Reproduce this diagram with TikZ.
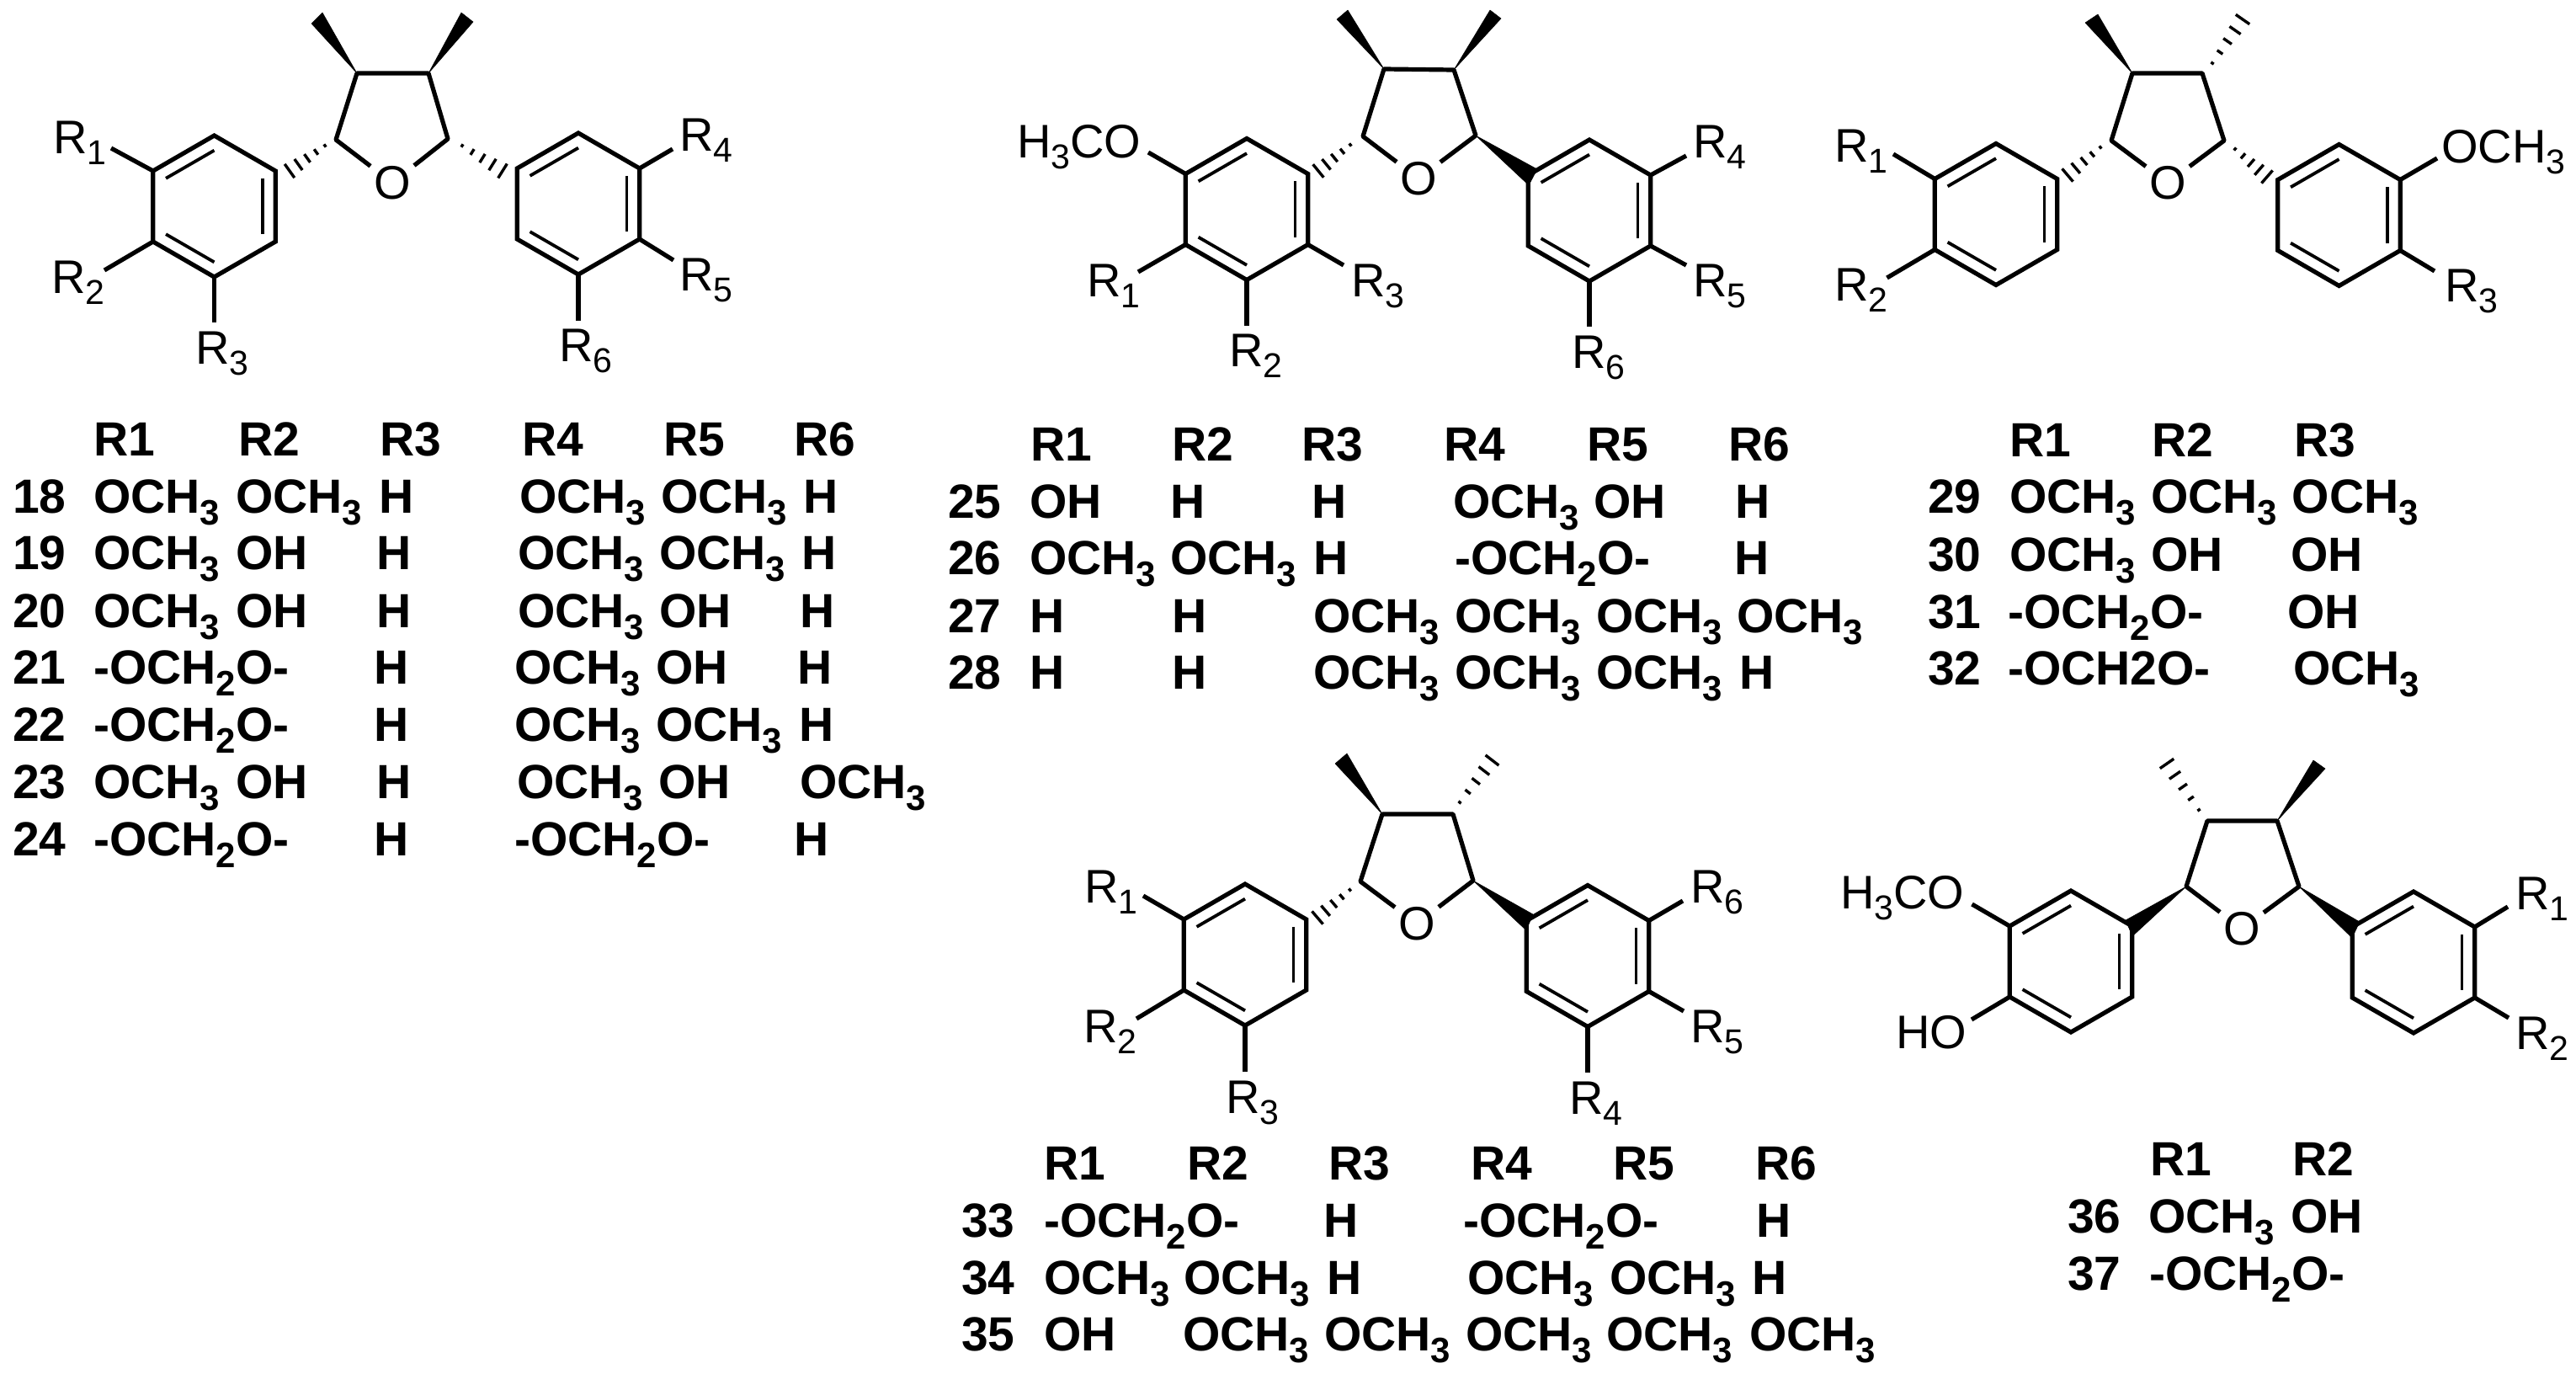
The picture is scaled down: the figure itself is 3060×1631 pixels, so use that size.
\documentclass[tikz,border=0pt]{standalone}
\usepackage{fontspec}
\setmainfont{Liberation Sans}
\usetikzlibrary{calc}
\newcommand\rsub[1]{\raisebox{-13pt}{\fontsize{41}{41}\selectfont #1}}
\newcommand\tsub[1]{\raisebox{-14pt}{\fontsize{42}{42}\selectfont #1}}
\newcommand\och{OCH\tsub{3}}
\newcommand\meth{-OCH\tsub{2}O-}
\tikzset{
  bond/.style={line width=5.2pt,line cap=butt,line join=miter,black},
  innerbond/.style={line width=3.8pt,black},
  hashbar/.style={line width=3.4pt,black},
  wedgefill/.style={fill=black,draw=black,line width=.5pt,line join=round},
  lab/.style={anchor=base west,inner sep=0pt,xshift=-4pt,font=\fontsize{56}{60}\selectfont},
  atom/.style={inner sep=4pt,font=\fontsize{56}{60}\selectfont},
  tb/.style={anchor=base west,inner sep=0pt,xshift=-3pt,font=\bfseries\fontsize{57}{60}\selectfont},
}
% hexagon with three inner double-bond lines
\newcommand\Ring[3]{%
  \begin{scope}[shift={(#2,#3)}]
    \coordinate (#1-t) at (0,-84);
    \coordinate (#1-ur) at (72.7,-42);
    \coordinate (#1-lr) at (72.7,42);
    \coordinate (#1-b) at (0,84);
    \coordinate (#1-ll) at (-72.7,42);
    \coordinate (#1-ul) at (-72.7,-42);
    \coordinate (#1-c) at (0,0);
  \end{scope}
  \draw[bond] (#1-t) -- (#1-ur) -- (#1-lr) -- (#1-b) -- (#1-ll) -- (#1-ul) -- cycle;
  \draw[innerbond] ($(#1-c)!.79!(#1-ul)$) -- ($(#1-c)!.79!(#1-t)$);
  \draw[innerbond] ($(#1-c)!.79!(#1-ur)$) -- ($(#1-c)!.79!(#1-lr)$);
  \draw[innerbond] ($(#1-c)!.79!(#1-ll)$) -- ($(#1-c)!.79!(#1-b)$);
}
% tetrahydrofuran core
\newcommand\Core[6]{%
  \coordinate (#1-c3) at (#2);
  \coordinate (#1-c4) at (#3);
  \coordinate (#1-c2) at (#4);
  \coordinate (#1-c5) at (#5);
  \node[atom] (#1-o) at (#6) {O};
  \draw[bond,line join=round] (#1-o) -- (#1-c2) -- (#1-c3) -- (#1-c4) -- (#1-c5) -- (#1-o);
}
\newcommand\Wedge[4]{%
  \coordinate (#2-1) at (#3);
  \coordinate (#2-2) at (#4);
  \fill[wedgefill] (#1) -- (#2-1) -- (#2-2) -- cycle;
}
\newcommand\Hash[3]{%
  \coordinate (#1-s) at (#2);
  \coordinate (#1-e) at (#3);
  \foreach \tp/\wd in {0/2,.25/4,.5/6,.75/8,1/10}{
    \draw[hashbar] ($(#1-s)!\tp!(#1-e) + (#1-s)!\wd pt!90:(#1-e) - (#1-s)$)
      -- ($(#1-s)!\tp!(#1-e) + (#1-s)!\wd pt!-90:(#1-e) - (#1-s)$);
  }
}
% substituent bond from ring vertex to a free end, plus its label
\newcommand\Sub[6]{%
  \coordinate (#2) at (#3);
  \draw[bond] (#1) -- (#2);
  \node[lab] (#2-t) at (#4,#5) {#6};
}
\begin{document}
\begin{tikzpicture}[x=1pt,y=-1pt]
\useasboundingbox (0,0) rectangle (3060,1631);
\fill[white] (0,0) rectangle (3060,1631);

%%% Structure A
\Core{a}{424,87}{509,87}{399,166}{532,165}{466,217}
\Wedge{a-c3}{aw3}{383,15}{370,28}
\Wedge{a-c4}{aw4}{548,15}{562,26}
\Ring{aL}{254.5}{245}
\Ring{aR}{687}{242}
\Hash{ah2}{386,173}{344,203}
\Hash{ah5}{549,173}{597,203}
\Sub{aL-ul}{a1}{132,176}{67}{182}{R\rsub{1}}
\Sub{aL-ll}{a2}{124,321}{65}{348}{R\rsub{2}}
\Sub{aL-b}{a3}{254.5,383}{236}{432}{R\rsub{3}}
\Sub{aR-ur}{a4}{799,177}{811}{179}{R\rsub{4}}
\Sub{aR-lr}{a5}{800,309}{811}{345}{R\rsub{5}}
\Sub{aR-b}{a6}{687,381}{668}{429}{R\rsub{6}}

%%% Structure B
\Core{b}{1644,82}{1727,83}{1619,162}{1753,161}{1685,212}
\Wedge{b-c3}{bw3}{1601,12}{1588,23}
\Wedge{b-c4}{bw4}{1770,12}{1783,22}
\Ring{bL}{1481}{248.5}
\Ring{bR}{1888}{250}
\Hash{bh2}{1604,172}{1566,203}
\Wedge{b-c5}{bw5}{1826,201}{1816,220}
\Sub{bL-ul}{b0}{1364,181}{1212}{187}{H\rsub{3}CO}
\Sub{bL-ll}{b1}{1352,323}{1295}{352}{R\rsub{1}}
\Sub{bL-b}{b2}{1481,387}{1464}{435}{R\rsub{2}}
\Sub{bL-lr}{b3}{1596,315}{1609}{352}{R\rsub{3}}
\Sub{bR-ur}{b4}{2003,185}{2015}{187}{R\rsub{4}}
\Sub{bR-lr}{b5}{2003,315}{2015}{352}{R\rsub{5}}
\Sub{bR-b}{b6}{1888,388}{1871}{437}{R\rsub{6}}

%%% Structure C
\Core{c}{2533,87}{2616,87}{2508,167}{2642,167}{2575,217}
\Wedge{c-c3}{cw3}{2492,17}{2477,27}
\Hash{ch4}{2628,75}{2664,23}
\Ring{cL}{2371}{254.5}
\Ring{cR}{2778.5}{255.5}
\Hash{ch2}{2495,175}{2456,208}
\Hash{ch5}{2655,177}{2693,210}
\Sub{cL-ul}{c1}{2249,183}{2183}{192}{R\rsub{1}}
\Sub{cL-ll}{c2}{2241.5,330}{2183}{357}{R\rsub{2}}
\Sub{cR-ur}{c0}{2895,188}{2904}{193}{OCH\rsub{3}}
\Sub{cR-lr}{c3}{2892,322}{2908}{358}{R\rsub{3}}

%%% Structure D
\Core{d}{1642,967}{1726,967}{1616,1047}{1750,1046}{1683,1097}
\Wedge{d-c3}{dw3}{1600,895}{1586,907}
\Hash{dh4}{1734,953}{1772.5,903}
\Ring{dL}{1479}{1134}
\Ring{dR}{1886}{1135.5}
\Hash{dh2}{1603.5,1057}{1565,1090}
\Wedge{d-c5}{dw5}{1821,1086}{1813,1105}
\Sub{dL-ul}{d1}{1358,1064}{1292}{1072}{R\rsub{1}}
\Sub{dL-ll}{d2}{1350,1210}{1291}{1238}{R\rsub{2}}
\Sub{dL-b}{d3}{1479,1273}{1460}{1322}{R\rsub{3}}
\Sub{dR-b}{d4}{1886,1274}{1868}{1323}{R\rsub{4}}
\Sub{dR-lr}{d5}{2000,1201}{2012}{1238}{R\rsub{5}}
\Sub{dR-ur}{d6}{1999,1070}{2012}{1072}{R\rsub{6}}

%%% Structure E
\Core{e}{2622,975}{2705,975}{2597,1053}{2731,1053}{2663,1103}
\Hash{eh3}{2612,962}{2574,907}
\Wedge{e-c4}{ew4}{2748,903}{2762,913}
\Ring{eL}{2460}{1142}
\Ring{eR}{2867}{1143}
\Wedge{e-c2}{ew2}{2525,1093}{2533,1112}
\Wedge{e-c5}{ew5}{2803,1095}{2794,1114}
\Sub{eL-ul}{e0}{2342.5,1074}{2190}{1079}{H\rsub{3}CO}
\Sub{eL-ll}{e9}{2342,1211}{2256}{1245}{HO}
\Sub{eR-ur}{e1}{2979,1077}{2992}{1080}{R\rsub{1}}
\Sub{eR-lr}{e2}{2980,1209}{2992}{1246}{R\rsub{2}}

%%% Table A
\foreach \n/\x/\y/\lab in {
 ah1/114/541/R1, ah2/286/541/R2, ah3/454/541/R3, ah4/623/541/R4, ah5/791/541/R5, ah6/946/541/R6,
 a18n/18/609/18, a18a/114/609/\och, a18b/283/609/\och, a18c/453/609/H, a18d/620/609/\och, a18e/788/609/\och, a18f/957/609/H,
 a19n/18/676/19, a19a/114/676/\och, a19b/283/676/OH, a19c/450/676/H, a19d/618/676/\och, a19e/786/676/\och, a19f/955/676/H,
 a20n/18/745/20, a20a/114/745/\och, a20b/283/745/OH, a20c/450/745/H, a20d/618/745/\och, a20e/786/745/OH, a20f/953/745/H,
 a21n/18/812/21, a21a/114/812/\meth, a21c/447/812/H, a21d/614/812/\och, a21e/782/812/OH, a21f/950/812/H,
 a22n/18/880/22, a22a/114/880/\meth, a22c/447/880/H, a22d/614/880/\och, a22e/782/880/\och, a22f/952/880/H,
 a23n/18/948/23, a23a/114/948/\och, a23b/283/948/OH, a23c/450/948/H, a23d/617/948/\och, a23e/785/948/OH, a23f/953/948/\och,
 a24n/18/1016/24, a24a/114/1016/\meth, a24c/447/1016/H, a24d/614/1016/\meth, a24f/946/1016/H}
 {\node[tb] (t\n) at (\x,\y) {\lab};}

%%% Table B
\foreach \n/\x/\y/\lab in {
 bh1/1227/547/R1, bh2/1395/547/R2, bh3/1549/547/R3, bh4/1718/547/R4, bh5/1888/547/R5, bh6/2056/547/R6,
 b25n/1129/615/25, b25a/1226/615/OH, b25b/1393/615/H, b25c/1561/615/H, b25d/1729/615/\och, b25e/1896/615/OH, b25f/2064/615/H,
 b26n/1129/682/26, b26a/1226/682/\och, b26b/1393/682/\och, b26c/1563/682/H, b26d/1731/682/\meth, b26f/2063/682/H,
 b27n/1129/751/27, b27a/1226/751/H, b27b/1395/751/H, b27c/1563/751/\och, b27d/1731/751/\och, b27e/1899/751/\och, b27f/2066/751/\och,
 b28n/1129/818/28, b28a/1226/818/H, b28b/1395/818/H, b28c/1563/818/\och, b28d/1731/818/\och, b28e/1899/818/\och, b28f/2069/818/H}
 {\node[tb] (t\n) at (\x,\y) {\lab};}

%%% Table C
\foreach \n/\x/\y/\lab in {
 ch1/2390/542/R1, ch2/2559/542/R2, ch3/2728/542/R3,
 c29n/2293/609/29, c29a/2390/609/\och, c29b/2558/609/\och, c29c/2725.5/609/\och,
 c30n/2293/678/30, c30a/2390/678/\och, c30b/2558/678/OH, c30c/2724/678/OH,
 c31n/2293/746/31, c31a/2388/746/\meth, c31c/2720/746/OH,
 c32n/2293/813/32, c32a/2388/813/-OCH2O-, c32c/2727/813/\och}
 {\node[tb] (t\n) at (\x,\y) {\lab};}

%%% Table D
\foreach \n/\x/\y/\lab in {
 dh1/1243/1401/R1, dh2/1413/1401/R2, dh3/1581/1401/R3, dh4/1750/1401/R4, dh5/1919/1401/R5, dh6/2088/1401/R6,
 d33n/1145/1469/33, d33a/1243/1469/\meth, d33c/1575/1469/H, d33d/1741/1469/\meth, d33f/2089/1469/H,
 d34n/1145/1537/34, d34a/1243/1537/\och, d34b/1409/1537/\och, d34c/1579/1537/H, d34d/1746/1537/\och, d34e/1915/1537/\och, d34f/2084/1537/H,
 d35n/1145/1604/35, d35a/1243/1604/OH, d35b/1408/1604/\och, d35c/1576/1604/\och, d35d/1744/1604/\och, d35e/1911/1604/\och, d35f/2081/1604/\och}
 {\node[tb] (t\n) at (\x,\y) {\lab};}

%%% Table E
\foreach \n/\x/\y/\lab in {
 eh1/2557/1396/R1, eh2/2726/1396/R2,
 e36n/2459/1464/36, e36a/2555/1464/\och, e36b/2724/1464/OH,
 e37n/2459/1532/37, e37a/2556/1532/\meth}
 {\node[tb] (t\n) at (\x,\y) {\lab};}
\end{tikzpicture}
\end{document}
